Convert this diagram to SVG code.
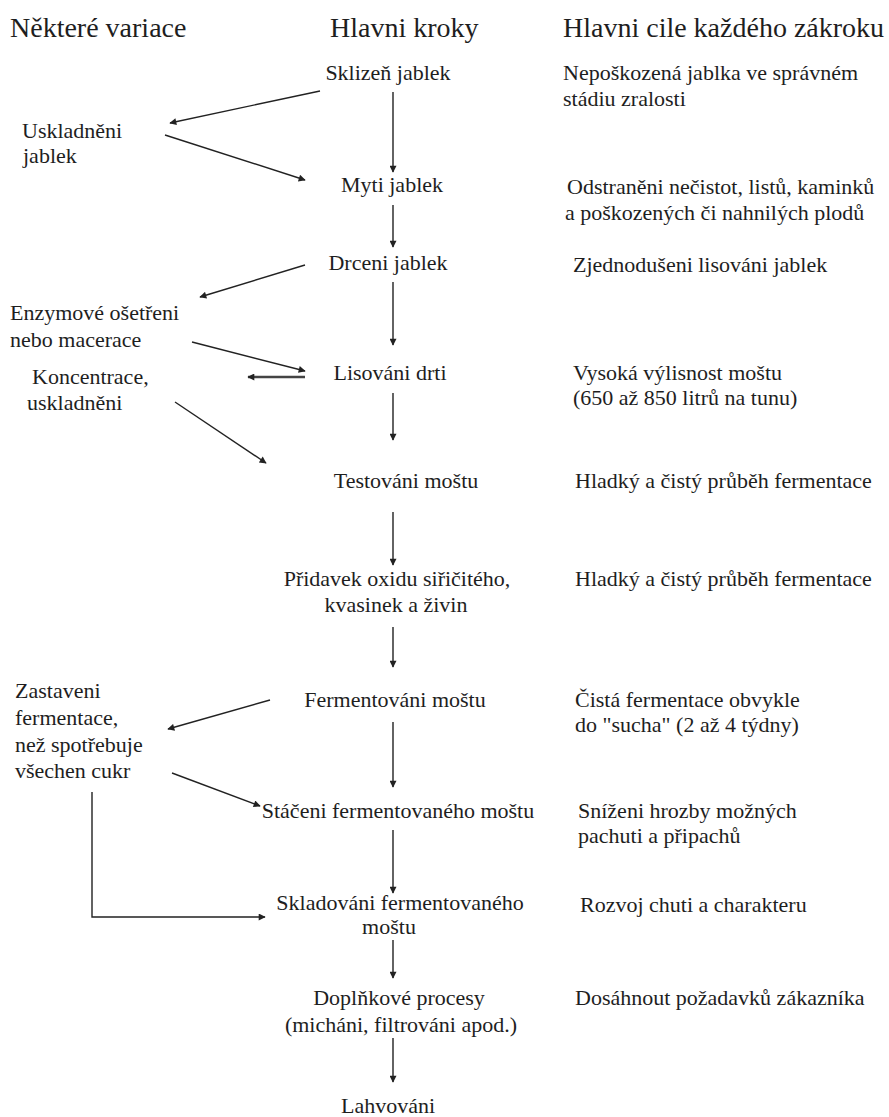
<svg xmlns="http://www.w3.org/2000/svg" width="889" height="1117" viewBox="0 0 889 1117">
  <defs>
    <style>
      .h { font-size: 28px; fill: #1e1e1e; }
      .t { font-size: 22px; fill: #1e1e1e; }
      .m { text-anchor: middle; }
      .c { fill: none; stroke: #222; stroke-width: 1.4; }
      .thick { stroke-width: 2.6; stroke: #444; }
    </style>
    <marker id="ah" viewBox="0 0 10 10" refX="9" refY="5" markerWidth="10" markerHeight="7" markerUnits="userSpaceOnUse" orient="auto">
      <path d="M0,0 L10,5 L0,10 Z" fill="#222"/>
    </marker>
  </defs>
  <rect width="889" height="1117" fill="#ffffff"/>

  <!-- column headings -->
  <g id="headings">
    <text class="h" style="font-family:'Liberation Serif'" x="10" y="37">Některé variace</text>
    <text class="h" style="font-family:'Liberation Serif'" x="330" y="37">Hlavni kroky</text>
    <text class="h" style="font-family:'Liberation Serif'" x="563" y="37">Hlavni cile každého zákroku</text>
  </g>

  <!-- main steps -->
  <g id="step-sklizen"><text class="t m" style="font-family:'Liberation Serif'" x="388" y="80">Sklizeň jablek</text></g>
  <g id="step-myti"><text class="t m" style="font-family:'Liberation Serif'" x="392" y="192">Myti jablek</text></g>
  <g id="step-drceni"><text class="t m" style="font-family:'Liberation Serif'" x="388" y="270">Drceni jablek</text></g>
  <g id="step-lisovani"><text class="t m" style="font-family:'Liberation Serif'" x="390" y="380">Lisováni drti</text></g>
  <g id="step-testovani"><text class="t m" style="font-family:'Liberation Serif'" x="406" y="488">Testováni moštu</text></g>
  <g id="step-pridavek">
    <text class="t m" style="font-family:'Liberation Serif'" x="397" y="586">Přidavek oxidu siřičitého,</text>
    <text class="t m" style="font-family:'Liberation Serif'" x="396" y="612">kvasinek a živin</text>
  </g>
  <g id="step-fermentovani"><text class="t m" style="font-family:'Liberation Serif'" x="395" y="707">Fermentováni moštu</text></g>
  <g id="step-staceni"><text class="t m" style="font-family:'Liberation Serif'" x="398" y="818">Stáčeni fermentovaného moštu</text></g>
  <g id="step-skladovani">
    <text class="t m" style="font-family:'Liberation Serif'" x="400" y="910">Skladováni fermentovaného</text>
    <text class="t m" style="font-family:'Liberation Serif'" x="389" y="934">moštu</text>
  </g>
  <g id="step-doplnkove">
    <text class="t m" style="font-family:'Liberation Serif'" x="399" y="1005">Doplňkové procesy</text>
    <text class="t m" style="font-family:'Liberation Serif'" x="401" y="1032">(micháni, filtrováni apod.)</text>
  </g>
  <g id="step-lahvovani"><text class="t m" style="font-family:'Liberation Serif'" x="388" y="1113">Lahvováni</text></g>

  <!-- variations -->
  <g id="var-uskladneni-jablek">
    <text class="t" style="font-family:'Liberation Serif'" x="22" y="138">Uskladněni</text>
    <text class="t" style="font-family:'Liberation Serif'" x="23" y="163">jablek</text>
  </g>
  <g id="var-enzymove">
    <text class="t" style="font-family:'Liberation Serif'" x="10" y="320">Enzymové ošetřeni</text>
    <text class="t" style="font-family:'Liberation Serif'" x="10" y="347">nebo macerace</text>
  </g>
  <g id="var-koncentrace">
    <text class="t" style="font-family:'Liberation Serif'" x="32" y="384">Koncentrace,</text>
    <text class="t" style="font-family:'Liberation Serif'" x="27" y="410">uskladněni</text>
  </g>
  <g id="var-zastaveni">
    <text class="t" style="font-family:'Liberation Serif'" x="15" y="698">Zastaveni</text>
    <text class="t" style="font-family:'Liberation Serif'" x="15" y="725">fermentace,</text>
    <text class="t" style="font-family:'Liberation Serif'" x="15" y="752">než spotřebuje</text>
    <text class="t" style="font-family:'Liberation Serif'" x="15" y="778">všechen cukr</text>
  </g>

  <!-- aims -->
  <g id="aim-sklizen">
    <text class="t" style="font-family:'Liberation Serif'" x="563" y="80">Nepoškozená jablka ve správném</text>
    <text class="t" style="font-family:'Liberation Serif'" x="563" y="106">stádiu zralosti</text>
  </g>
  <g id="aim-myti">
    <text class="t" style="font-family:'Liberation Serif'" x="567" y="194">Odstraněni nečistot, listů, kaminků</text>
    <text class="t" style="font-family:'Liberation Serif'" x="565" y="220">a poškozených či nahnilých plodů</text>
  </g>
  <g id="aim-drceni"><text class="t" style="font-family:'Liberation Serif'" x="573" y="272">Zjednodušeni lisováni jablek</text></g>
  <g id="aim-lisovani">
    <text class="t" style="font-family:'Liberation Serif'" x="573" y="380">Vysoká výlisnost moštu</text>
    <text class="t" style="font-family:'Liberation Serif'" x="573" y="405">(650 až 850 litrů na tunu)</text>
  </g>
  <g id="aim-testovani"><text class="t" style="font-family:'Liberation Serif'" x="575" y="488">Hladký a čistý průběh fermentace</text></g>
  <g id="aim-pridavek"><text class="t" style="font-family:'Liberation Serif'" x="575" y="586">Hladký a čistý průběh fermentace</text></g>
  <g id="aim-fermentovani">
    <text class="t" style="font-family:'Liberation Serif'" x="575" y="707">Čistá fermentace obvykle</text>
    <text class="t" style="font-family:'Liberation Serif'" x="575" y="732">do "sucha" (2 až 4 týdny)</text>
  </g>
  <g id="aim-staceni">
    <text class="t" style="font-family:'Liberation Serif'" x="578" y="818">Sníženi hrozby možných</text>
    <text class="t" style="font-family:'Liberation Serif'" x="578" y="843">pachuti a připachů</text>
  </g>
  <g id="aim-skladovani"><text class="t" style="font-family:'Liberation Serif'" x="580" y="912">Rozvoj chuti a charakteru</text></g>
  <g id="aim-doplnkove"><text class="t" style="font-family:'Liberation Serif'" x="575" y="1005">Dosáhnout požadavků zákazníka</text></g>

  <!-- connectors -->
  <g id="connectors">
    <line class="c" x1="393" y1="92" x2="393" y2="172" marker-end="url(#ah)"/>
    <line class="c" x1="393" y1="205" x2="393" y2="247" marker-end="url(#ah)"/>
    <line class="c" x1="393" y1="282" x2="393" y2="345" marker-end="url(#ah)"/>
    <line class="c" x1="393" y1="393" x2="393" y2="440" marker-end="url(#ah)"/>
    <line class="c" x1="393" y1="512" x2="393" y2="565" marker-end="url(#ah)"/>
    <line class="c" x1="393" y1="627" x2="393" y2="667" marker-end="url(#ah)"/>
    <line class="c" x1="393" y1="722" x2="393" y2="787" marker-end="url(#ah)"/>
    <line class="c" x1="393" y1="830" x2="393" y2="893" marker-end="url(#ah)"/>
    <line class="c" x1="393" y1="940" x2="393" y2="978" marker-end="url(#ah)"/>
    <line class="c" x1="393" y1="1038" x2="393" y2="1082" marker-end="url(#ah)"/>

    <line class="c" x1="320" y1="91" x2="170" y2="123" marker-end="url(#ah)"/>
    <line class="c" x1="165" y1="135" x2="305" y2="180" marker-end="url(#ah)"/>
    <line class="c" x1="305" y1="265" x2="200" y2="297" marker-end="url(#ah)"/>
    <line class="c" x1="192" y1="342" x2="305" y2="371" marker-end="url(#ah)"/>
    <line class="c thick" x1="305" y1="377" x2="248" y2="377" marker-end="url(#ah)"/>
    <line class="c" x1="175" y1="402" x2="266" y2="463" marker-end="url(#ah)"/>
    <line class="c" x1="270" y1="700" x2="168" y2="729" marker-end="url(#ah)"/>
    <line class="c" x1="172" y1="773" x2="260" y2="806" marker-end="url(#ah)"/>
    <polyline class="c" points="92,792 92,917 265,917" marker-end="url(#ah)"/>
  </g>
</svg>
